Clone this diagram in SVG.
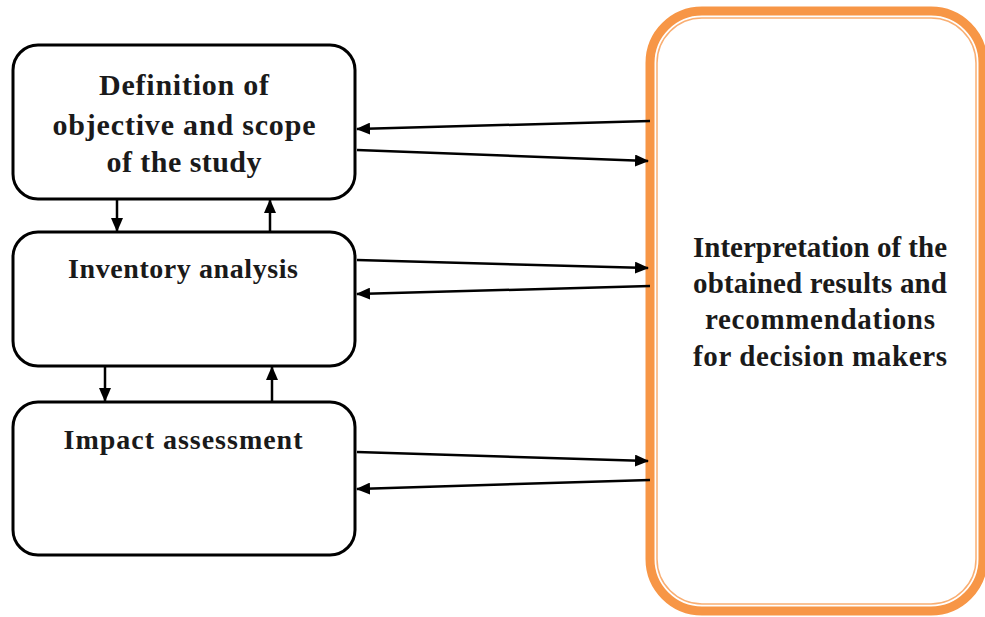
<svg xmlns="http://www.w3.org/2000/svg" width="985" height="617" viewBox="0 0 985 617">
<defs>
<style>
.box{fill:#fff;stroke:#000;stroke-width:3}
.t{font-family:"Liberation Serif",serif;font-weight:bold;fill:#1a1a1a;text-anchor:middle}
.c{stroke:#000;stroke-width:2.5;fill:none;marker-end:url(#ah)}
</style>
<marker id="ah" viewBox="0 0 14 12" refX="13" refY="6" markerWidth="14" markerHeight="12" markerUnits="userSpaceOnUse" orient="auto">
<path d="M0,0 L14,6 L0,12 Z" fill="#000"/>
</marker>
</defs>
<rect width="985" height="617" fill="#fff"/>
<g id="interpretation">
<rect x="650" y="11" width="333" height="600" rx="52" fill="#fff" stroke="#F79646" stroke-width="9"/>
<rect x="657" y="18" width="319" height="586" rx="45" fill="none" stroke="#F9AE72" stroke-width="1.5"/>
<text class="t" font-size="29"><tspan x="820" y="257" textLength="254">Interpretation of the</tspan><tspan x="820" y="293" textLength="254">obtained results and</tspan><tspan x="820" y="329" textLength="230">recommendations</tspan><tspan x="820" y="366" textLength="254">for decision makers</tspan></text>
</g>
<g id="definition">
<rect class="box" x="13" y="45" width="342" height="154" rx="25"/>
<text class="t" font-size="30"><tspan x="184" y="95" textLength="170">Definition of</tspan><tspan x="184" y="135" textLength="263">objective and scope</tspan><tspan x="184" y="172" textLength="155">of the study</tspan></text>
</g>
<g id="inventory">
<rect class="box" x="13" y="232" width="342" height="134" rx="25"/>
<text class="t" font-size="28" x="183" y="278" textLength="230">Inventory analysis</text>
</g>
<g id="impact">
<rect class="box" x="13" y="402" width="342" height="153" rx="25"/>
<text class="t" font-size="28" x="183" y="449" textLength="239">Impact assessment</text>
</g>
<g id="connectors">
<path class="c" d="M117,200 V231"/>
<path class="c" d="M270,231 V200"/>
<path class="c" d="M105,367 V401"/>
<path class="c" d="M272,401 V367"/>
<path class="c" d="M650,121 L357,129"/>
<path class="c" d="M357,150 L648,161"/>
<path class="c" d="M357,260 L648,268"/>
<path class="c" d="M650,286 L357,294"/>
<path class="c" d="M357,452 L648,461"/>
<path class="c" d="M650,480 L357,489"/>
</g>
</svg>
